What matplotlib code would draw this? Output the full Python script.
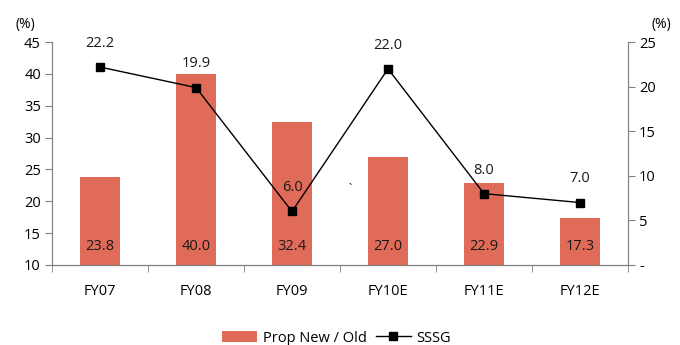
import matplotlib.pyplot as plt
import numpy as np
from matplotlib.ticker import FixedLocator, FuncFormatter

plt.rcParams['font.family'] = ['Open Sans', 'DejaVu Sans']

years = ['FY07', 'FY08', 'FY09', 'FY10E', 'FY11E', 'FY12E']
prop_new_old = [23.8, 40.0, 32.4, 27.0, 22.9, 17.3]
sssg = [22.2, 19.9, 6.0, 22.0, 8.0, 7.0]

bar_color = '#E16B59'
spine_color = '#808080'

fig = plt.figure(figsize=(6.8, 3.45), dpi=100)
ax = fig.add_axes([0.0765, 0.232, 0.847, 0.646])
ax2 = ax.twinx()

x = np.arange(len(years))
bars = ax.bar(x, np.array(prop_new_old) - 10, bottom=10, width=0.41,
              color=bar_color, label='Prop New / Old', zorder=2)
for xi, v in zip(x, prop_new_old):
    ax.text(xi, 12.9, f'{v:.1f}', ha='center', va='center', fontsize=10.5, color='#1a1a1a')

line, = ax2.plot(x, sssg, color='black', lw=1.0, marker='s', ms=6,
                 markerfacecolor='black', label='SSSG', zorder=3)
for xi, v in zip(x, sssg):
    ax2.annotate(f'{v:.1f}', (xi, v), xytext=(0, 17), textcoords='offset points',
                 ha='center', va='center', fontsize=10.5, color='#1a1a1a')

ax.set_xlim(-0.5, len(years) - 0.5)
ax.set_ylim(10, 45)
ax2.set_ylim(0, 25)
ax.set_yticks(range(10, 46, 5))
ax2.set_yticks(range(0, 26, 5))
ax2.yaxis.set_major_formatter(FuncFormatter(lambda v, p: '-' if v == 0 else f'{int(v)}'))

ax.set_xticks(x)
ax.set_xticklabels(years)
ax.xaxis.set_minor_locator(FixedLocator(np.arange(-0.5, len(years), 1.0)))
ax.tick_params(axis='x', which='major', length=0, pad=14, labelsize=10.5)
ax.tick_params(axis='x', which='minor', length=5, color=spine_color)
ax.tick_params(axis='y', length=5, color=spine_color, labelsize=10.5, pad=3)
ax2.tick_params(axis='y', length=5, color=spine_color, labelsize=10.5, pad=3)

for a in (ax, ax2):
    a.spines['top'].set_visible(False)
    for s in ('left', 'right', 'bottom'):
        a.spines[s].set_color(spine_color)
ax.spines['bottom'].set_color('#555555')

fig.text(0.037, 0.93, '(%)', ha='center', va='center', fontsize=10)
fig.text(0.972, 0.93, '(%)', ha='center', va='center', fontsize=10)
fig.text(0.515, 0.45, '`', ha='center', va='center', fontsize=8)

fig.legend([bars, line], ['Prop New / Old', 'SSSG'], loc='center',
           bbox_to_anchor=(0.495, 0.02), ncol=2, frameon=False, fontsize=10.5,
           handlelength=2.4, columnspacing=0.6, handletextpad=0.4)

fig.savefig('out.png', dpi=100)
